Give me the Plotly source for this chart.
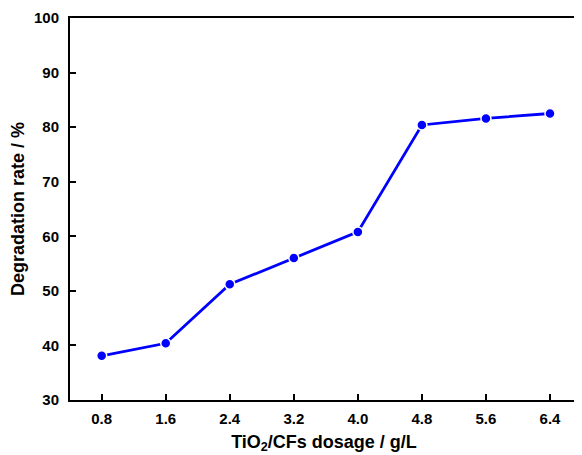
import plotly.graph_objects as go

dosage = [0.8, 1.6, 2.4, 3.2, 4.0, 4.8, 5.6, 6.4]
degradation = [38.1, 40.4, 51.2, 56.0, 60.8, 80.4, 81.6, 82.5]
x_ticks = [0.8, 1.6, 2.4, 3.2, 4.0, 4.8, 5.6, 6.4]
x_tick_labels = ["0.8", "1.6", "2.4", "3.2", "4.0", "4.8", "5.6", "6.4"]
y_ticks = [30, 40, 50, 60, 70, 80, 90, 100]

fig = go.Figure()
fig.add_trace(go.Scatter(
    x=dosage, y=degradation, mode="lines+markers",
    line=dict(color="#0000FF", width=2.8),
    marker=dict(color="#0000FF", size=10, line=dict(color="white", width=1.5)),
    showlegend=False,
))

fam = "Liberation Sans, Arial, sans-serif"
tickfont = dict(family=fam, size=15, color="black")
titlefont = dict(family=fam, size=18, color="black")
# page body has an 8px margin; figure sized/offset to compensate
fig.update_layout(
    width=574, height=447,
    margin=dict(l=62, r=4, t=10, b=55, autoexpand=False),
    paper_bgcolor="white", plot_bgcolor="white",
    font=dict(family=fam, size=15, color="black"),
    xaxis=dict(
        range=[0.404, 6.75], tickvals=x_ticks, ticktext=[f"<b>{t}</b>" for t in x_tick_labels],
        tickfont=tickfont,
        ticks="inside", ticklen=6, tickwidth=2, tickcolor="black",
        showline=True, linecolor="black", linewidth=2, mirror=True,
        showgrid=False, zeroline=False, ticklabelstandoff=4,
        title=dict(text="<b>TiO<sub>2</sub>/CFs dosage / g/L</b>", font=titlefont, standoff=9),
    ),
    yaxis=dict(
        range=[30, 100], tickvals=y_ticks, ticktext=[f"<b>{t}</b>" for t in y_ticks],
        tickfont=tickfont,
        ticks="inside", ticklen=6, tickwidth=2, tickcolor="black",
        showline=True, linecolor="black", linewidth=2, mirror=True,
        showgrid=False, zeroline=False, ticklabelstandoff=6,
        title=dict(text="<b>Degradation rate / %</b>", font=titlefont, standoff=10),
    ),
)
fig.write_html("out.html")
